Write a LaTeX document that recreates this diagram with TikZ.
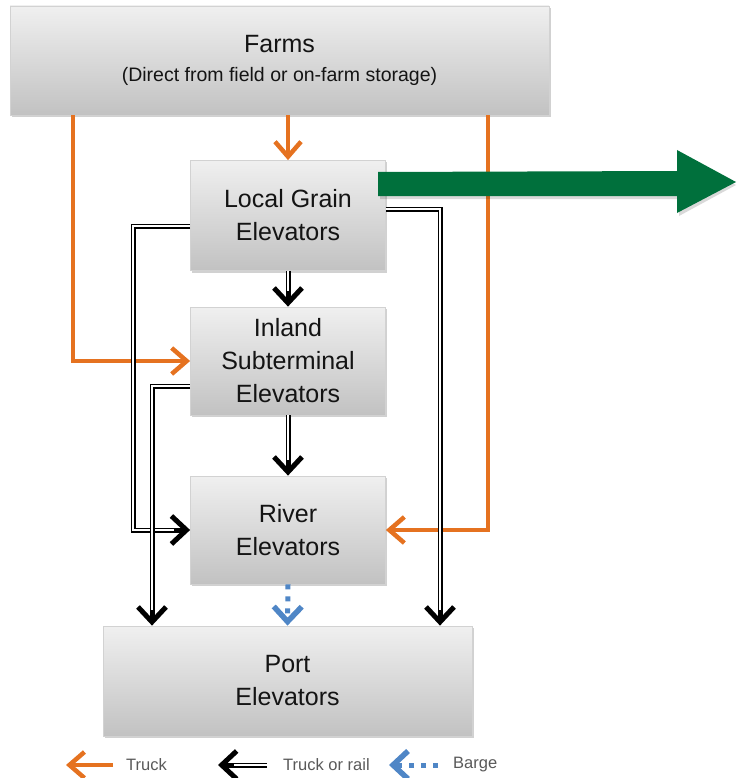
\documentclass[tikz,border=0pt]{standalone}
\usepackage{fontspec}
\setmainfont{Liberation Sans}
\usetikzlibrary{arrows.meta,shadows,calc}
\definecolor{truckc}{RGB}{229,114,32}
\definecolor{bargec}{RGB}{79,134,198}
\definecolor{greenc}{RGB}{0,112,60}
\definecolor{boxtxt}{RGB}{20,20,20}
\tikzset{
  box/.style={draw=gray!35, line width=0.8pt, top color=gray!12, bottom color=gray!48,
    text=boxtxt, font=\fontsize{25}{33}\selectfont, align=center, inner sep=0pt,
    drop shadow={shadow xshift=1.5pt, shadow yshift=-2pt, fill=black, opacity=0.18}},
  truckarr/.style={draw=truckc, line width=4pt,
    -{Straight Barb[length=15pt, width=26pt, line width=4.5pt]}},
  railarr/.style={draw=black, line width=5pt, line join=miter,
    -{Straight Barb[length=15pt, width=28pt, line width=5pt]},
    postaction={draw=white, line width=1.6pt, arrows=-, shorten >=16pt}},
  bargearr/.style={draw=bargec, line width=5pt, dash pattern=on 5pt off 7pt,
    -{Straight Barb[length=15pt, width=28pt, line width=5.5pt]}},
  legendtxt/.style={font=\fontsize{16.5}{18}\selectfont, text=black!65, anchor=west, inner sep=0pt}
}
\begin{document}
\begin{tikzpicture}[x=1pt,y=-1pt]
\useasboundingbox (0,0) rectangle (736,778);
% boxes
\node[box, minimum width=539pt, minimum height=109pt, font=\fontsize{25}{29}\selectfont] (farms) at (279.5,60.5)
  {Farms\\{\fontsize{19.5}{29}\selectfont (Direct from field or on-farm storage)}};
\node[box, minimum width=195pt, minimum height=110pt] (lge) at (288,215.5) {Local Grain\\Elevators};
\node[box, minimum width=195pt, minimum height=108pt] (ise) at (288,361) {Inland\\Subterminal\\Elevators};
\node[box, minimum width=195pt, minimum height=108pt] (rive) at (288,530) {River\\Elevators};
\node[box, minimum width=369pt, minimum height=110pt] (port) at (287.5,681) {Port\\Elevators};
% truck (orange)
\draw[truckarr] (farms.south -| lge.north) -- (lge.north);
\draw[truckarr] ([xshift=-206.5pt]farms.south) |- (ise.west);
\draw[truckarr] ([xshift=208.5pt]farms.south) |- (rive.east);
% truck or rail (black double)
\draw[railarr] (lge.south) -- (ise.north);
\draw[railarr] (ise.south) -- (rive.north);
\draw[railarr] ([yshift=-10.5pt]lge.west) -- ++(-57,0) |- (rive.west);
\draw[railarr] ([yshift=6.5pt]lge.east) -| ([xshift=152.5pt]port.north);
\draw[railarr] ([yshift=-25pt]ise.west) -| ([xshift=-135.5pt]port.north);
% barge
\draw[bargearr] (rive.south) -- (port.north);
% green export arrow
\coordinate (gtip) at (736,182);
\fill[black, opacity=0.15] (380,175) -- (679,174) -- (679,153) -- (736,185) -- (679,216) -- (679,199) -- (380,199) -- cycle;
\fill[greenc] (378,172) -- (677,171) -- (677,150) -- (gtip) -- (677,213) -- (677,196) -- (378,196) -- cycle;
% legend
\coordinate (l1tip) at (66,765);
\coordinate (l1tail) at (113,765);
\draw[truckarr, line width=3.5pt] (l1tail) -- (l1tip);
\node[legendtxt] (ltruck) at (126,765) {Truck};
\coordinate (l2tip) at (218,765);
\coordinate (l2tail) at (267,765);
\draw[railarr] (l2tail) -- (l2tip);
\node[legendtxt] (lrail) at (283,765) {Truck or rail};
\coordinate (l3tip) at (389,765);
\coordinate (l3tail) at (438,765);
\draw[bargearr] (l3tail) -- (l3tip);
\node[legendtxt] (lbarge) at (453,765) {Barge};
\end{tikzpicture}
\end{document}
